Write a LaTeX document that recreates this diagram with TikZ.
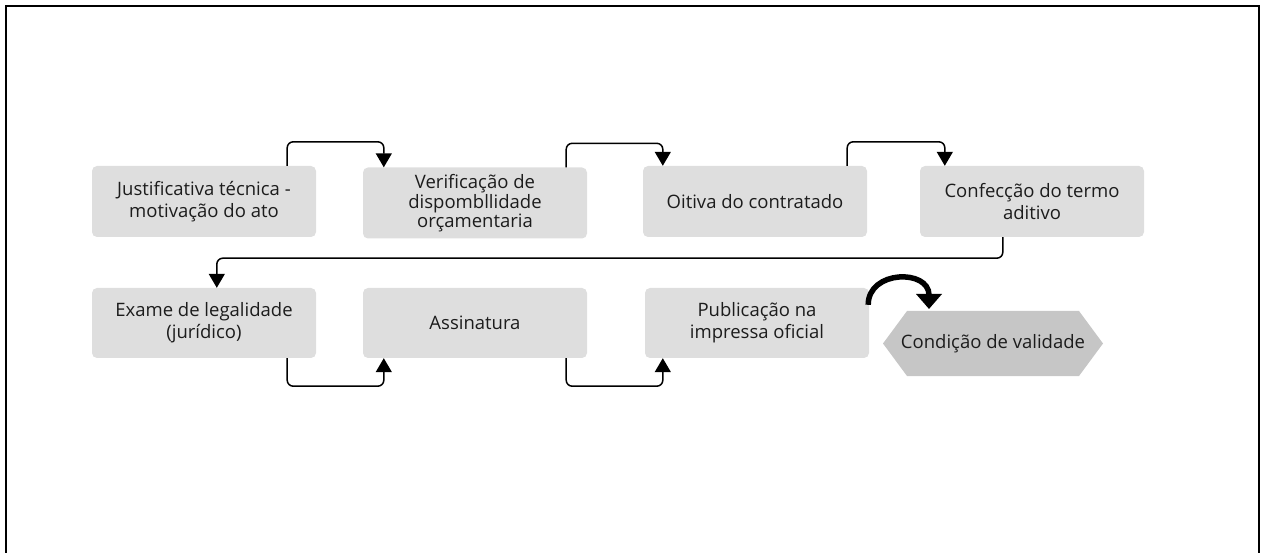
\documentclass[tikz,border=0pt]{standalone}
\usepackage{fontspec}
\setmainfont{Open Sans}
\usetikzlibrary{arrows.meta,calc}
\definecolor{boxgray}{HTML}{DEDEDE}
\definecolor{hexgray}{HTML}{C6C6C6}
\definecolor{txt}{HTML}{1C1C1C}
\begin{document}
\begin{tikzpicture}[x=1pt,y=-1pt,
  stepbox/.style={fill=boxgray, rounded corners=5pt, minimum width=224pt, minimum height=71pt,
    align=center, inner sep=0pt, text=txt, font=\fontsize{18.5}{22}\selectfont},
  conn/.style={line width=1.5pt, rounded corners=6pt, -{Triangle[width=16pt,length=14pt]}},
  frame/.style={line width=2pt}]
\useasboundingbox (0,0) rectangle (1264,553);
\draw[frame] (5.5,560) -- (5.5,6.5) -- (1258.5,6.5) -- (1258.5,560);

% row 1
\node[stepbox] (b1) at (204,201.5) {Justificativa técnica -\\motivação do ato};
\node[stepbox, font=\fontsize{18.5}{18}\selectfont] (b2) at (475,203) {Verificação de\\dispombllidade\\orçamentaria};
\node[stepbox] (b3) at (755,201.5) {Oitiva do contratado};
\node[stepbox] (b4) at (1032,201.5) {Confecção do termo\\aditivo};
% row 2
\node[stepbox, minimum height=70pt] (b5) at (204,323) {Exame de legalidade\\(jurídico)};
\node[stepbox, minimum height=70pt] (b6) at (475,323) {Assinatura};
\node[stepbox, minimum height=70pt] (b7) at (757,323) {Publicação na\\impressa oficial};

% hexagon
\path[fill=hexgray] (883,343.5) -- (907,311) -- (1079,311) -- (1103,343.5) -- (1079,376) -- (907,376) -- cycle;
\node[text=txt, font=\fontsize{18.5}{22}\selectfont] (hx) at (993,343.5) {Condição de validade};
\coordinate (hxin) at (929,309);

% connectors row 1
\draw[conn] ([xshift=-29pt]b1.north east) -- ++(0,-24) -| ([xshift=21pt]b2.north west);
\draw[conn] ([xshift=-21pt]b2.north east) -- ++(0,-24) -| ([xshift=20pt]b3.north west);
\draw[conn] ([xshift=-20pt]b3.north east) -- ++(0,-24) -| ([xshift=25pt]b4.north west);
% long connector
\draw[conn] ([xshift=83pt]b4.south west) -- ++(0,21) -| ([xshift=125pt]b5.north west);
% connectors row 2
\draw[conn] ([xshift=-29pt]b5.south east) -- ++(0,28) -| ([xshift=21pt]b6.south west);
\draw[conn] ([xshift=-21pt]b6.south east) -- ++(0,28) -| ([xshift=18pt]b7.south west);

% curved thick arrow
\draw[line width=5.5pt, -{Triangle[width=25pt,length=15pt]}]
  ($(b7.north east)+(-1,17)$) .. controls ($(b7.north east)+(-1,-18)$) and ($(hxin)+(0,-40)$) .. (hxin);
\end{tikzpicture}
\end{document}
